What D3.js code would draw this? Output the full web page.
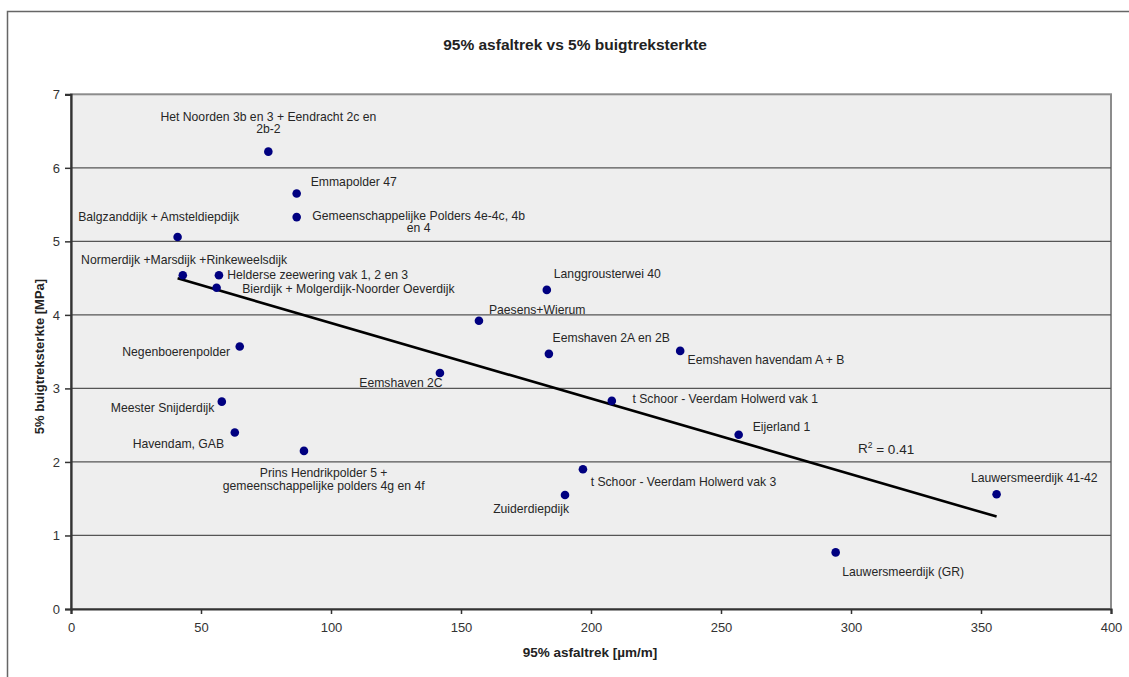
<!DOCTYPE html>
<html lang="nl">
<head>
    <meta charset="UTF-8">
    <title>95% asfaltrek vs 5% buigtreksterkte</title>
    <script src="https://d3js.org/d3.v7.min.js"></script>
    <style>
        body { margin: 0; background: #fff; }
        svg { display: block; font-family: "Liberation Sans", Arial, sans-serif; }
    </style>
</head>
<body>
    <svg id="chart" width="1129" height="677"></svg>
    <script>
        // data
        const names = [
            "Het Noorden 3b en 3 + Eendracht 2c en\n2b-2",
            "Emmapolder 47",
            "Gemeenschappelijke Polders 4e-4c, 4b\nen 4",
            "Balgzanddijk + Amsteldiepdijk",
            "Normerdijk +Marsdijk +Rinkeweelsdijk",
            "Helderse zeewering vak 1, 2 en 3",
            "Bierdijk + Molgerdijk-Noorder Oeverdijk",
            "Negenboerenpolder",
            "Meester Snijderdijk",
            "Havendam, GAB",
            "Prins Hendrikpolder 5 +\ngemeenschappelijke polders 4g en 4f",
            "Langgrousterwei 40",
            "Paesens+Wierum",
            "Eemshaven 2A en 2B",
            "Eemshaven havendam A + B",
            "Eemshaven 2C",
            "t Schoor - Veerdam Holwerd vak 1",
            "Eijerland 1",
            "t Schoor - Veerdam Holwerd vak 3",
            "Zuiderdiepdijk",
            "Lauwersmeerdijk 41-42",
            "Lauwersmeerdijk (GR)"
        ];
        const asfaltrek = [75.9, 86.8, 86.8, 41.0, 43.0, 56.9, 56.0, 64.9, 58.0, 63.0, 89.6,
                           183.0, 156.9, 183.8, 234.3, 141.9, 208.0, 256.8, 196.9, 190.0, 356.0, 294.1];
        const buigtrek = [6.22, 5.65, 5.33, 5.06, 4.54, 4.54, 4.37, 3.57, 2.82, 2.40, 2.15,
                          4.34, 3.92, 3.47, 3.51, 3.21, 2.83, 2.37, 1.90, 1.55, 1.56, 0.77];
        const xTicks = [0, 50, 100, 150, 200, 250, 300, 350, 400];
        const yTicks = [0, 1, 2, 3, 4, 5, 6, 7];
        const rSquared = "0.41";

        // label placement: [anchor, dx, dy, lineHeight]
        const labelPos = [
            ["middle", 0, -35, 16.5], ["start", 14, -12.3, 0], ["middle", 122, -1.5, 16.5],
            ["start", -99.4, -20.6, 0], ["start", -101.7, -15.7, 0], ["start", 8.3, 0, 0],
            ["start", 25.6, 1.3, 0], ["end", -9.7, 5.6, 0], ["end", -7.4, 6, 0],
            ["end", -10.7, 11, 0], ["middle", 19.7, 22.3, 16.7], ["start", 7, -15.7, 0],
            ["start", 10, -11, 0], ["start", 3.7, -16.3, 0], ["start", 7.4, 9.3, 0],
            ["end", 2.7, 10, 0], ["start", 20.6, -2, 0], ["start", 14, -7.7, 0],
            ["start", 7.7, 12.6, 0], ["end", 4, 14, 0], ["start", -25.7, -16.6, 0],
            ["start", 6.6, 19, 0]
        ];

        const svg = d3.select("#chart");
        const plot = { left: 71, right: 1111, top: 94.3, bottom: 609 };

        const x = d3.scaleLinear().domain([0, 400]).range([plot.left, plot.right]);
        const y = d3.scaleLinear().domain([0, 7]).range([plot.bottom, plot.top]);

        // outer chart frame
        svg.append("rect")
            .attr("x", 7.5).attr("y", 11.5)
            .attr("width", 1140).attr("height", 700)
            .attr("fill", "#fff")
            .attr("stroke", "#666").attr("stroke-width", 1.5);

        // plot area
        svg.append("rect")
            .attr("x", plot.left).attr("y", plot.top)
            .attr("width", plot.right - plot.left).attr("height", plot.bottom - plot.top)
            .attr("fill", "#eeeeee")
            .attr("stroke", "#8c8c8c").attr("stroke-width", 2);

        // gridlines
        svg.append("g")
            .selectAll("line")
            .data(yTicks.filter(d => d > 0 && d < 7))
            .join("line")
            .attr("x1", plot.left).attr("x2", plot.right)
            .attr("y1", d => y(d)).attr("y2", d => y(d))
            .attr("stroke", "#555").attr("stroke-width", 1.2);

        // axes
        const xAxis = svg.append("g")
            .attr("transform", `translate(0,${plot.bottom})`)
            .call(d3.axisBottom(x).tickValues(xTicks).tickFormat(d3.format("d"))
                .tickSize(5).tickPadding(9));
        const yAxis = svg.append("g")
            .attr("transform", `translate(${plot.left},0)`)
            .call(d3.axisLeft(y).tickValues(yTicks).tickFormat(d3.format("d"))
                .tickSize(6).tickPadding(5));

        [xAxis, yAxis].forEach(ax => {
            ax.select(".domain").attr("stroke", "#333").attr("stroke-width", 2.2);
            ax.selectAll(".tick line").attr("stroke", "#333").attr("stroke-width", 1.5);
            ax.selectAll(".tick text")
                .attr("font-size", 13)
                .attr("fill", "#333")
                .attr("font-family", "'Liberation Sans', Arial, sans-serif");
        });

        // linear trend line (least squares)
        const mx = d3.mean(asfaltrek), my = d3.mean(buigtrek);
        let sxy = 0, sxx = 0;
        asfaltrek.forEach((v, i) => {
            sxy += (v - mx) * (buigtrek[i] - my);
            sxx += (v - mx) * (v - mx);
        });
        const slope = sxy / sxx;
        const intercept = my - slope * mx;
        const [xmin, xmax] = d3.extent(asfaltrek);

        svg.append("line")
            .attr("x1", x(xmin)).attr("y1", y(intercept + slope * xmin))
            .attr("x2", x(xmax)).attr("y2", y(intercept + slope * xmax))
            .attr("stroke", "#000").attr("stroke-width", 2.6);

        // points
        svg.append("g")
            .selectAll("circle")
            .data(asfaltrek)
            .join("circle")
            .attr("cx", d => x(d))
            .attr("cy", (d, i) => y(buigtrek[i]))
            .attr("r", 4.3)
            .attr("fill", "#000080");

        // point labels
        const labels = svg.append("g")
            .attr("font-size", 12.2)
            .attr("fill", "#262626");

        names.forEach((name, i) => {
            const [anchor, dx, dy, lh] = labelPos[i];
            const px = x(asfaltrek[i]) + dx;
            const py = y(buigtrek[i]) + dy;
            const t = labels.append("text")
                .attr("text-anchor", anchor)
                .attr("x", px).attr("y", py)
                .attr("dy", "0.35em");
            name.split("\n").forEach((line, k) => {
                t.append("tspan")
                    .attr("x", px)
                    .attr("y", py + k * lh)
                    .text(line);
            });
        });

        // R squared
        const rt = svg.append("text")
            .attr("x", 858).attr("y", 448.3)
            .attr("dy", "0.35em")
            .attr("font-size", 13.5)
            .attr("fill", "#262626");
        rt.append("tspan").text("R");
        rt.append("tspan").attr("font-size", 8.5).attr("dy", "-0.6em").text("2");
        rt.append("tspan").attr("dy", "0.45em").text(" = " + rSquared);

        // title and axis titles
        svg.append("text")
            .attr("x", 575).attr("y", 44.3)
            .attr("dy", "0.35em")
            .attr("text-anchor", "middle")
            .attr("font-size", 15.5).attr("font-weight", "bold")
            .attr("fill", "#222")
            .text("95% asfaltrek vs 5% buigtreksterkte");

        svg.append("text")
            .attr("x", 590).attr("y", 652.3)
            .attr("dy", "0.35em")
            .attr("text-anchor", "middle")
            .attr("font-size", 13.5).attr("font-weight", "bold")
            .attr("fill", "#222")
            .text("95% asfaltrek [µm/m]");

        svg.append("text")
            .attr("transform", "translate(39.5,356.5) rotate(-90)")
            .attr("dy", "0.35em")
            .attr("text-anchor", "middle")
            .attr("font-size", 13).attr("font-weight", "bold")
            .attr("fill", "#222")
            .text("5% buigtreksterkte [MPa]");
    </script>
</body>
</html>
